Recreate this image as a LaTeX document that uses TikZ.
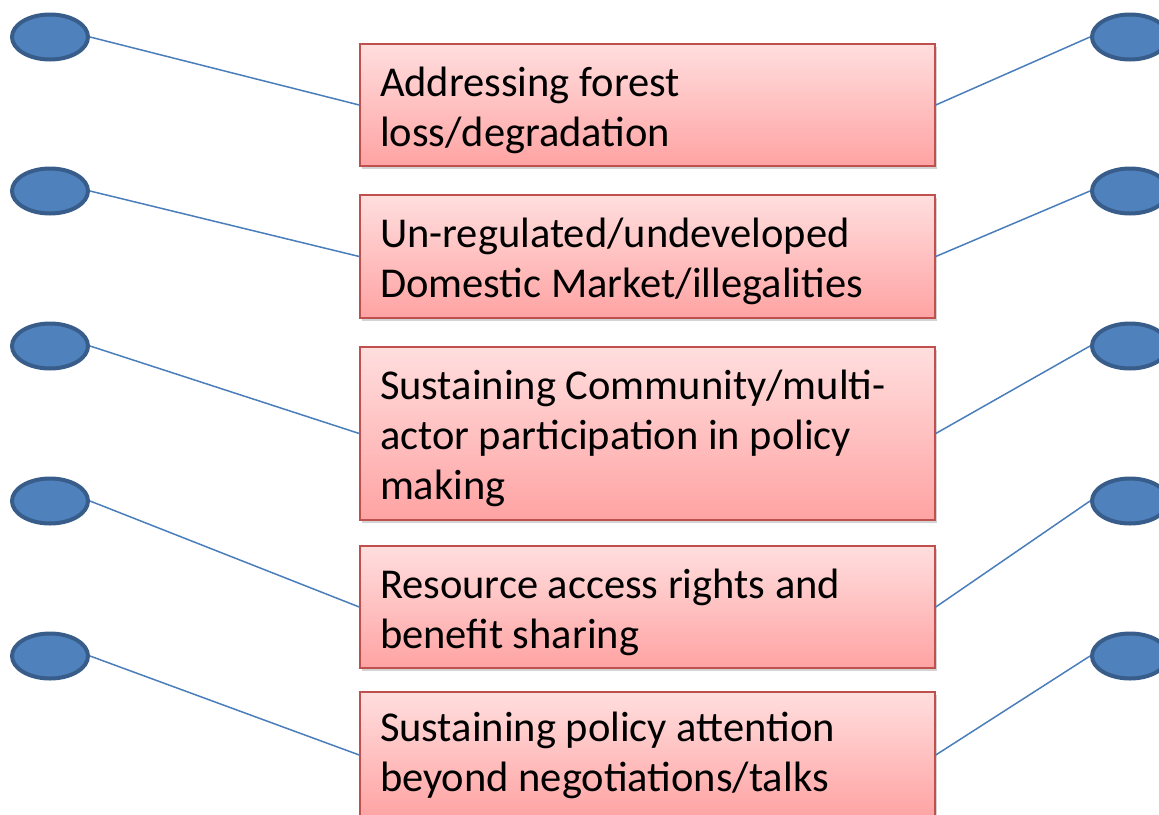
\documentclass[tikz,border=0pt]{standalone}
\usepackage{fontspec}
\setmainfont{Carlito}
\usetikzlibrary{shapes.geometric,shadows}
\definecolor{ellfill}{HTML}{4F81BD}
\definecolor{elldraw}{HTML}{385D8A}
\definecolor{linkc}{HTML}{4A7EBB}
\definecolor{boxdraw}{HTML}{C0504D}
\definecolor{boxtop}{HTML}{FFDEDE}
\definecolor{boxbot}{HTML}{FFA3A3}
\begin{document}
\begin{tikzpicture}[x=1pt,y=-1pt,
  dot/.style={ellipse, draw=elldraw, fill=ellfill, line width=4pt, minimum width=76pt, minimum height=45pt, inner sep=0pt},
  issue/.style={rectangle, draw=boxdraw, line width=1.5pt, top color=boxtop, bottom color=boxbot,
     minimum width=575pt, inner sep=0pt,
     drop shadow={opacity=0.35, shadow xshift=2pt, shadow yshift=-3pt}},
  issuetext/.style={text width=535pt, align=flush left, inner sep=0pt,
     font=\fontsize{42.5}{50}\selectfont},
  link/.style={draw=linkc, line width=1.5pt}]
\useasboundingbox (0,0) rectangle (1159,814);
\node[issue, minimum height=122pt] (B1) at (647.5,105) {};
\node[issue, minimum height=123pt] (B2) at (647.5,256.5) {};
\node[issue, minimum height=173pt] (B3) at (647.5,433.5) {};
\node[issue, minimum height=122pt] (B4) at (647.5,607) {};
\node[issue, minimum height=126pt] (B5) at (647.5,755) {};
\node[issuetext] (T1) at ([yshift=-5pt]B1.center) {Addressing forest\\loss/degradation};
\node[issuetext] (T2) at ([yshift=-5pt]B2.center) {Un-regulated/undeveloped\\Domestic Market/illegalities};
\node[issuetext] (T3) at ([yshift=-5pt]B3.center) {Sustaining Community/multi-\\actor participation in policy\\making};
\node[issuetext] (T4) at ([yshift=-5pt]B4.center) {Resource access rights and\\benefit sharing};
\node[issuetext] (T5) at (B5.center) {Sustaining policy attention\\beyond negotiations/talks};
\foreach \i/\y in {1/37,2/191,3/346,4/501,5/656}{
  \node[dot] (L\i) at (50,\y) {};
  \node[dot] (R\i) at (1130,\y) {};
  \draw[link] (L\i.east) -- (B\i.west);
  \draw[link] (B\i.east) -- (R\i.west);
}
\end{tikzpicture}
\end{document}
